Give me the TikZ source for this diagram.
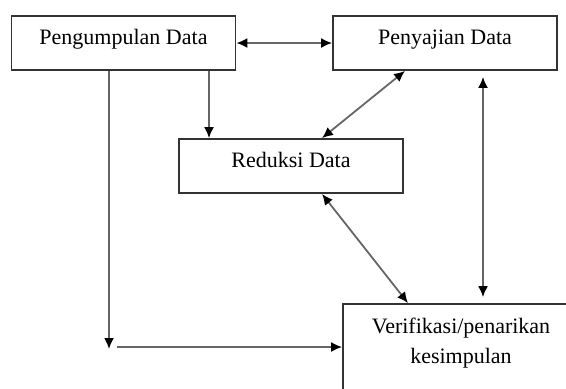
\documentclass[tikz,border=0pt]{standalone}
\usepackage{fontspec}
\setmainfont{Liberation Serif}
\usepackage{tikz}
\usetikzlibrary{arrows.meta}
\usetikzlibrary{calc}

\begin{document}
\begin{tikzpicture}[x=0.5pt, y=-0.5pt, >={Latex[length=5.5pt,width=5pt,color=black]},
box/.style={draw=black!80, line width=0.9pt, fill=white, minimum width=112pt, minimum height=27pt, inner sep=0pt, text depth=6pt},
link/.style={draw=black!60, line width=0.9pt}]
\useasboundingbox (0,0) rectangle (566,388);
\fontsize{11}{15}\selectfont

% kotak
\node [box] (kumpul) at (123.5,43) {Pengumpulan Data};
\node [box] (saji) at (445,43) {Penyajian Data};
\node [box] (reduksi) at (291,166) {Reduksi Data};
\node [box, minimum width=118pt, minimum height=50pt, align=center, text depth=13pt] (verif) at (461,354) {Verifikasi/penarikan\\kesimpulan};

% titik bantu
\coordinate (turun) at (209,0);
\coordinate (belok) at (109,349);
\coordinate (kanan) at (483,0);

% panah
\draw [link,<->] (kumpul) -- (saji);
\draw [link,->] (kumpul.south -| turun) -- (reduksi.north -| turun);
\draw [link,<->] ($(saji.south)+(-40,0)$) -- ($(reduksi.north)+(31,0)$);
\draw [link,<->] ($(reduksi.south)+(31,0)$) -- ($(verif.north)+(-53,0)$);
\draw [link,<->,shorten <=3pt,shorten >=3pt] (saji.south -| kanan) -- (verif.north -| kanan);

% jalur kiri
\draw [link,->] (kumpul.south -| belok) -- (belok);
\draw [link,->] ($(belok)+(8,-2)$) -- (verif.west |- {$(belok)+(0,-2)$});

\end{tikzpicture}
\end{document}
